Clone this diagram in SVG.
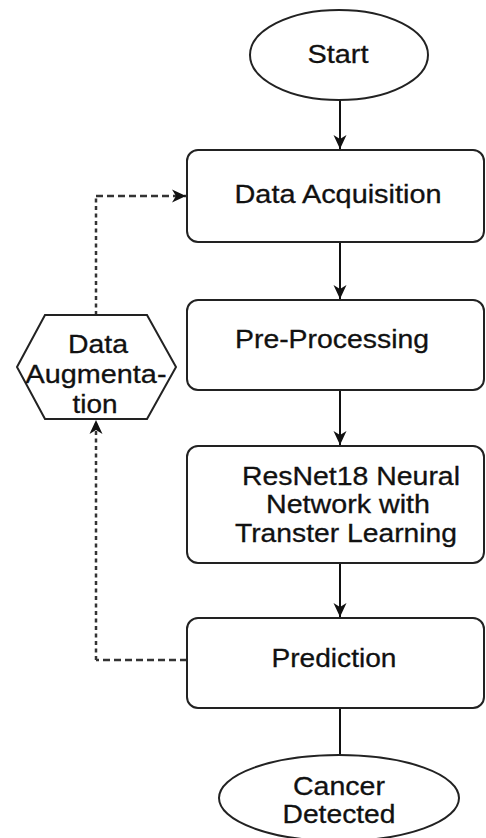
<svg xmlns="http://www.w3.org/2000/svg" width="486" height="838" viewBox="0 0 486 838">
<style>
.shape{fill:#fff;stroke:#222;stroke-width:2}
.t{font-family:"Liberation Sans",Arial,sans-serif;font-size:26px;fill:#111;text-anchor:middle;stroke:#111;stroke-width:0.3}
.solid{stroke:#111;stroke-width:2;fill:none}
.dh{stroke:#333;stroke-width:2.5;fill:none;stroke-dasharray:7 4}
.dv{stroke:#333;stroke-width:2.5;fill:none;stroke-dasharray:4 3.5}
</style>
<defs>
<marker id="arr" viewBox="0 0 15 15" refX="14" refY="7.5" markerWidth="15" markerHeight="15" markerUnits="userSpaceOnUse" orient="auto">
<path d="M0,1 L14,7.5 L0,14 L4,7.5 Z" fill="#111"/>
</marker>
</defs>
<rect width="486" height="838" fill="#fff"/>
<g id="connectors">
<line class="solid" x1="340" y1="100" x2="340" y2="149" marker-end="url(#arr)"/>
<line class="solid" x1="340" y1="242" x2="340" y2="299" marker-end="url(#arr)"/>
<line class="solid" x1="340" y1="390" x2="340" y2="445" marker-end="url(#arr)"/>
<line class="solid" x1="340" y1="563" x2="340" y2="617" marker-end="url(#arr)"/>
<line class="solid" x1="340" y1="708" x2="340" y2="755"/>
<line class="dh" x1="187" y1="660" x2="96" y2="660"/>
<line class="dv" x1="96" y1="660" x2="96" y2="420" marker-end="url(#arr)"/>
<line class="dv" x1="96" y1="315" x2="96" y2="196"/>
<line class="dh" x1="96" y1="196" x2="186" y2="196" marker-end="url(#arr)"/>
</g>
<g id="start">
<ellipse class="shape" cx="339" cy="55" rx="89" ry="45"/>
<text class="t" x="338" y="63" textLength="61" lengthAdjust="spacingAndGlyphs">Start</text>
</g>
<g id="data-acquisition">
<rect class="shape" x="187" y="150" width="297" height="92" rx="11"/>
<text class="t" x="338" y="203" textLength="207" lengthAdjust="spacingAndGlyphs">Data Acquisition</text>
</g>
<g id="pre-processing">
<rect class="shape" x="187" y="300" width="297" height="90" rx="11"/>
<text class="t" x="332" y="348" textLength="194" lengthAdjust="spacingAndGlyphs">Pre-Processing</text>
</g>
<g id="resnet">
<rect class="shape" x="187" y="446" width="297" height="117" rx="11"/>
<text class="t" x="351" y="485" textLength="218" lengthAdjust="spacingAndGlyphs">ResNet18 Neural</text>
<text class="t" x="348" y="513" textLength="164" lengthAdjust="spacingAndGlyphs">Network with</text>
<text class="t" x="346" y="542" textLength="222" lengthAdjust="spacingAndGlyphs">Transter Learning</text>
</g>
<g id="prediction">
<rect class="shape" x="187" y="618" width="297" height="90" rx="11"/>
<text class="t" x="334" y="667" textLength="125" lengthAdjust="spacingAndGlyphs">Prediction</text>
</g>
<g id="cancer-detected">
<ellipse class="shape" cx="339" cy="798" rx="120" ry="43"/>
<text class="t" x="339" y="795" textLength="92" lengthAdjust="spacingAndGlyphs">Cancer</text>
<text class="t" x="339" y="823" textLength="113" lengthAdjust="spacingAndGlyphs">Detected</text>
</g>
<g id="data-augmentation">
<polygon class="shape" points="17,367 45,315 147,315 176,367 147,419 45,419"/>
<text class="t" x="98" y="353" textLength="60" lengthAdjust="spacingAndGlyphs">Data</text>
<text class="t" x="96" y="383" textLength="141" lengthAdjust="spacingAndGlyphs">Augmenta-</text>
<text class="t" x="95" y="413" textLength="45" lengthAdjust="spacingAndGlyphs">tion</text>
</g>
</svg>
